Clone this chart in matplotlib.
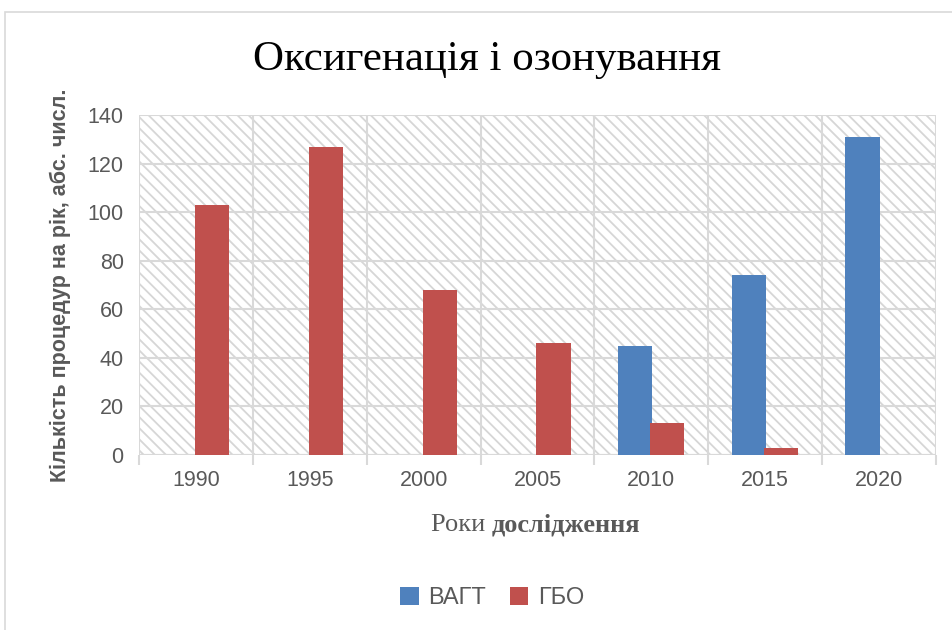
import matplotlib.pyplot as plt
from matplotlib.patches import Rectangle
import numpy as np

# дані з діаграми
roky = ["1990", "1995", "2000", "2005", "2010", "2015", "2020"]
vagt = [0, 0, 0, 0, 45, 74, 131]
gbo = [103, 127, 68, 46, 13, 3, 0]

kolir_vagt = "#4f81bd"
kolir_gbo = "#c0504d"
sirij = "#d9d9d9"
tekst = "#595959"

plt.rcParams["hatch.color"] = "#d6d6d6"
plt.rcParams["hatch.linewidth"] = 1.3

fig = plt.figure(figsize=(9.52, 6.3), dpi=100)
ax = fig.add_axes([139 / 952, 1 - 455 / 630, 797 / 952, 340 / 630])

# рамка діаграми
fig.patches.append(Rectangle((5 / 952, -0.02), 1.0, 1 - 12 / 630 + 0.02,
                             transform=fig.transFigure, fill=False,
                             edgecolor=sirij, linewidth=1.2))

x = np.arange(len(roky))
shyryna = 0.3
ax.bar(x - 0.145, vagt, shyryna, color=kolir_vagt, label="ВАГТ", zorder=3)
ax.bar(x + 0.14, gbo, shyryna, color=kolir_gbo, label="ГБО", zorder=3)

ax.set_xlim(-0.5, len(roky) - 0.5)
ax.set_ylim(0, 140)

# заштрихований фон
ax.add_patch(Rectangle((0, 0), 1, 1, transform=ax.transAxes, facecolor="white",
                       edgecolor="#d6d6d6", hatch="\\" * 3, linewidth=0, zorder=0))

ax.set_yticks(range(0, 141, 20))
ax.set_xticks(x)
ax.set_xticklabels(roky)
ax.set_xticks(np.arange(-0.5, len(roky)), minor=True)
ax.grid(True, axis="y", color=sirij, linewidth=1.5, zorder=1)
ax.grid(True, axis="x", which="minor", color=sirij, linewidth=1.5, zorder=1)
ax.tick_params(axis="x", which="major", length=0, pad=11, labelsize=15.5, labelcolor=tekst)
ax.tick_params(axis="x", which="minor", length=7, color=sirij, width=1.5)
ax.tick_params(axis="y", length=0, pad=11, labelsize=15.5, labelcolor=tekst)
for s in ax.spines.values():
    s.set_visible(False)
ax.axhline(0, color=sirij, linewidth=1.5, zorder=2)

for lbl in ax.get_xticklabels() + ax.get_yticklabels():
    lbl.set_family("Liberation Sans")

ax.set_ylabel("Кількість процедур на рік, абс. числ.", family="Liberation Sans",
              fontsize=15.5, fontweight="bold", color=tekst, labelpad=12)

fig.text(487 / 952, 1 - 60 / 630, "Оксигенація і озонування", ha="center",
         va="center", family="Liberation Serif", fontsize=31, color="black")

# підпис осі X: звичайний + жирний
t1 = fig.text(492 / 952, 1 - 525 / 630, "Роки ", ha="right", va="center",
              family="Liberation Serif", fontsize=19, color=tekst)
ax.annotate("дослідження", xy=(1, 0), xycoords=t1, va="bottom", ha="left",
            family="Liberation Serif", fontsize=19, fontweight="bold", color=tekst)

ax.legend(loc="center", bbox_to_anchor=(492 / 952, 1 - 598 / 630),
          bbox_transform=fig.transFigure, ncol=2, frameon=False,
          prop={"family": "Liberation Sans", "size": 17}, labelcolor=tekst,
          handlelength=0.8, handleheight=0.8, handletextpad=0.4, columnspacing=1.0)

fig.savefig("out.png", dpi=100, facecolor="white")
